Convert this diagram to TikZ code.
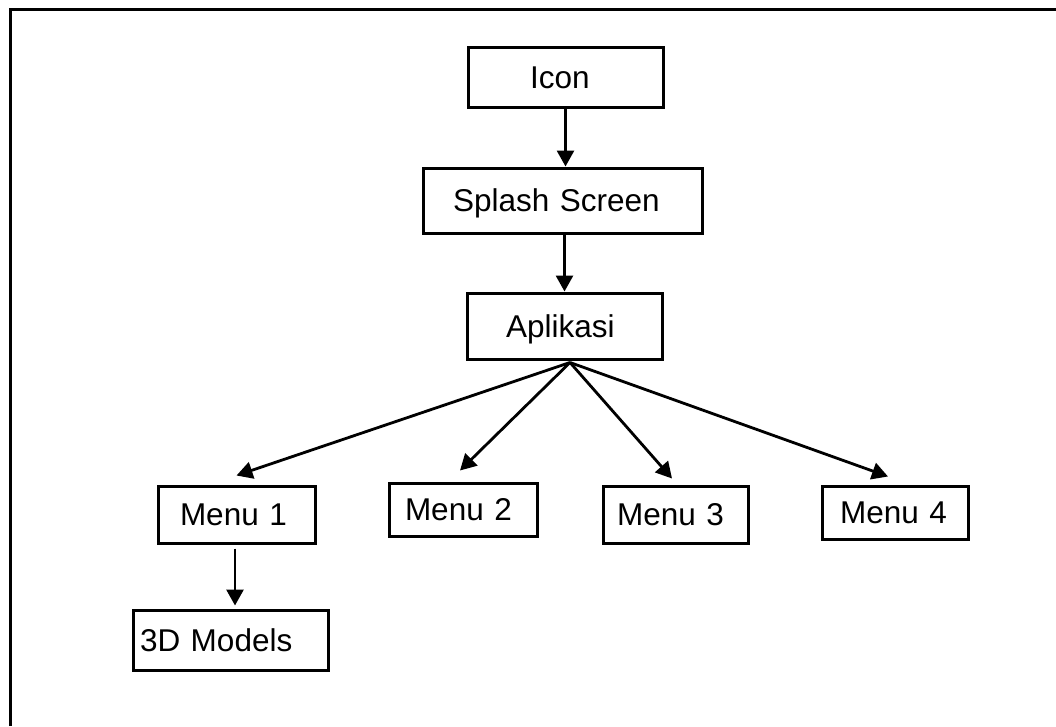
\documentclass[tikz,border=0pt]{standalone}
\usepackage{fontspec}
\setmainfont{Liberation Sans}
\usetikzlibrary{arrows.meta}

\tikzset{
  kotak/.style={draw, line width=3pt, inner ysep=0pt, align=left,
    font=\fontsize{31.5}{36}\selectfont, text height=22.5pt, text depth=0pt},
  panah/.style={line width=2.8pt, -{Triangle[length=16pt,width=17pt]}}
}

\begin{document}
\begin{tikzpicture}[x=1pt,y=-1pt]
\useasboundingbox (0,0) rectangle (1056,726);
\draw[line width=3.5pt] (10.5,726) -- (10.5,9.5) -- (1056,9.5) ;

\begin{scope}
\node[kotak, inner xsep=62pt, text width=71pt, minimum height=60pt] (icon) at (565.5,77) {Icon};
\node[kotak, inner xsep=30pt, text width=219pt, minimum height=65pt] (splash) at (562.5,200.5) {Splash Screen};
\node[kotak, inner xsep=39pt, text width=117pt, minimum height=66pt] (aplikasi) at (564.5,326) {Aplikasi};
\end{scope}

\begin{scope}
\node[kotak, inner xsep=22pt, text width=113pt, minimum height=57pt] (menu1) at (236.5,514.5) {Menu 1};
\node[kotak, inner xsep=16pt, text width=116pt, minimum height=53pt] (menu2) at (463,509.5) {Menu 2};
\node[kotak, inner xsep=14pt, text width=117pt, minimum height=57pt] (menu3) at (675.5,514.5) {Menu 3};
\node[kotak, inner xsep=18pt, text width=110pt, minimum height=53pt] (menu4) at (895,512.5) {Menu 4};
\node[kotak, inner xsep=7pt, text width=181pt, minimum height=60pt] (model) at (230.5,640) {3D Models};
\end{scope}

\coordinate (pusat) at ([xshift=5.5pt,yshift=-2pt]aplikasi.south) ;
\draw[panah] (icon.south) -- (icon.south |- splash.north) ;
\draw[panah] (aplikasi.north |- splash.south) -- (aplikasi.north) ;
\draw[panah] (pusat) -- ([yshift=9pt]menu1.north) ;
\draw[panah] (pusat) -- ([xshift=-3pt,yshift=11pt]menu2.north) ;
\draw[panah] (pusat) -- ([xshift=-3.5pt,yshift=6pt]menu3.north) ;
\draw[panah] (pusat) -- ([xshift=-7pt,yshift=8pt]menu4.north) ;
\draw[panah, shorten <=4pt, shorten >=3pt] ([xshift=-1.5pt]menu1.south) -- ([xshift=-1.5pt]menu1.south |- model.north) ;
\end{tikzpicture}
\end{document}
